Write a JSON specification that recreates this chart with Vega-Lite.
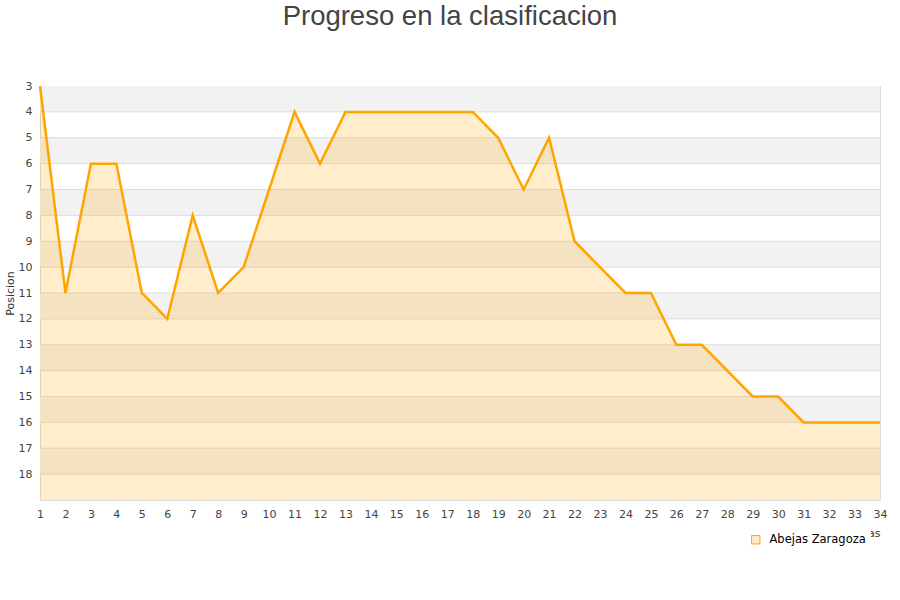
{
  "$schema": "https://vega.github.io/schema/vega-lite/v6.json",
  "width": 840,
  "height": 414,
  "autosize": "none",
  "padding": {"left": 40, "top": 86, "right": 20, "bottom": 100},
  "background": "white",
  "title": {"text": "Progreso en la clasificacion", "font": "Liberation Sans", "fontSize": 27.5, "fontWeight": "normal", "color": "#444444", "offset": 50, "dx": -10},
  "config": {"view": {"stroke": "#dddddd"}, "axis": {"labelFont": "DejaVu Sans", "labelColor": "#444444", "labelFontSize": 11, "labelOverlap": false}, "axisX": {"labelOverlap": false}, "axisY": {"labelOverlap": false}, "axisQuantitative": {"labelOverlap": false}},
  "datasets": {
    "pos": [
      {"jornada": 1, "posicion": 3, "equipo": "Abejas Zaragoza"},
      {"jornada": 2, "posicion": 11, "equipo": "Abejas Zaragoza"},
      {"jornada": 3, "posicion": 6, "equipo": "Abejas Zaragoza"},
      {"jornada": 4, "posicion": 6, "equipo": "Abejas Zaragoza"},
      {"jornada": 5, "posicion": 11, "equipo": "Abejas Zaragoza"},
      {"jornada": 6, "posicion": 12, "equipo": "Abejas Zaragoza"},
      {"jornada": 7, "posicion": 8, "equipo": "Abejas Zaragoza"},
      {"jornada": 8, "posicion": 11, "equipo": "Abejas Zaragoza"},
      {"jornada": 9, "posicion": 10, "equipo": "Abejas Zaragoza"},
      {"jornada": 10, "posicion": 7, "equipo": "Abejas Zaragoza"},
      {"jornada": 11, "posicion": 4, "equipo": "Abejas Zaragoza"},
      {"jornada": 12, "posicion": 6, "equipo": "Abejas Zaragoza"},
      {"jornada": 13, "posicion": 4, "equipo": "Abejas Zaragoza"},
      {"jornada": 14, "posicion": 4, "equipo": "Abejas Zaragoza"},
      {"jornada": 15, "posicion": 4, "equipo": "Abejas Zaragoza"},
      {"jornada": 16, "posicion": 4, "equipo": "Abejas Zaragoza"},
      {"jornada": 17, "posicion": 4, "equipo": "Abejas Zaragoza"},
      {"jornada": 18, "posicion": 4, "equipo": "Abejas Zaragoza"},
      {"jornada": 19, "posicion": 5, "equipo": "Abejas Zaragoza"},
      {"jornada": 20, "posicion": 7, "equipo": "Abejas Zaragoza"},
      {"jornada": 21, "posicion": 5, "equipo": "Abejas Zaragoza"},
      {"jornada": 22, "posicion": 9, "equipo": "Abejas Zaragoza"},
      {"jornada": 23, "posicion": 10, "equipo": "Abejas Zaragoza"},
      {"jornada": 24, "posicion": 11, "equipo": "Abejas Zaragoza"},
      {"jornada": 25, "posicion": 11, "equipo": "Abejas Zaragoza"},
      {"jornada": 26, "posicion": 13, "equipo": "Abejas Zaragoza"},
      {"jornada": 27, "posicion": 13, "equipo": "Abejas Zaragoza"},
      {"jornada": 28, "posicion": 14, "equipo": "Abejas Zaragoza"},
      {"jornada": 29, "posicion": 15, "equipo": "Abejas Zaragoza"},
      {"jornada": 30, "posicion": 15, "equipo": "Abejas Zaragoza"},
      {"jornada": 31, "posicion": 16, "equipo": "Abejas Zaragoza"},
      {"jornada": 32, "posicion": 16, "equipo": "Abejas Zaragoza"},
      {"jornada": 33, "posicion": 16, "equipo": "Abejas Zaragoza"},
      {"jornada": 34, "posicion": 16, "equipo": "Abejas Zaragoza"}
    ],
    "bands": [
      {"desde": 3, "hasta": 4}, {"desde": 5, "hasta": 6}, {"desde": 7, "hasta": 8},
      {"desde": 9, "hasta": 10}, {"desde": 11, "hasta": 12}, {"desde": 13, "hasta": 14},
      {"desde": 15, "hasta": 16}, {"desde": 17, "hasta": 18}
    ],
    "grid": [
      {"v": 4}, {"v": 5}, {"v": 6}, {"v": 7}, {"v": 8}, {"v": 9}, {"v": 10}, {"v": 11},
      {"v": 12}, {"v": 13}, {"v": 14}, {"v": 15}, {"v": 16}, {"v": 17}, {"v": 18}
    ]
  },
  "layer": [
    {
      "data": {"name": "bands"},
      "mark": {"type": "rect", "color": "#f2f2f2"},
      "encoding": {
        "y": {"field": "desde", "type": "quantitative", "scale": {"domain": [3, 19], "reverse": true, "nice": false, "zero": false},
              "axis": {"values": [3,4,5,6,7,8,9,10,11,12,13,14,15,16,17,18], "tickCount": 16, "labelOverlap": false, "labelBound": false, "grid": false, "ticks": false, "domain": false, "labelPadding": 8, "title": "Posicion", "titleFont": "DejaVu Sans", "titleFontSize": 11, "titleFontWeight": "normal", "titleColor": "#333333", "titlePadding": 3}},
        "y2": {"field": "hasta"}
      }
    },
    {
      "data": {"name": "grid"},
      "mark": {"type": "rule", "color": "#dddddd", "strokeWidth": 1},
      "encoding": {"y": {"field": "v", "type": "quantitative",
              "axis": {"values": [3,4,5,6,7,8,9,10,11,12,13,14,15,16,17,18], "tickCount": 16, "labelOverlap": false, "labelBound": false, "grid": false, "ticks": false, "domain": false, "labelPadding": 8, "title": "Posicion", "titleFont": "DejaVu Sans", "titleFontSize": 11, "titleFontWeight": "normal", "titleColor": "#333333", "titlePadding": 3}}}
    },
    {
      "data": {"name": "pos"},
      "mark": {"type": "area", "color": "#FFA500", "opacity": 0.2},
      "encoding": {
        "x": {"field": "jornada", "type": "quantitative", "scale": {"domain": [1, 34], "nice": false, "zero": false},
              "axis": {"values": [1,2,3,4,5,6,7,8,9,10,11,12,13,14,15,16,17,18,19,20,21,22,23,24,25,26,27,28,29,30,31,32,33,34], "tickCount": 34, "labelOverlap": false, "labelBound": false, "grid": false, "ticks": false, "domain": true, "domainColor": "#dddddd", "labelPadding": 8, "labelFlush": false, "title": "Jornadas", "titleAnchor": "end", "titleFont": "DejaVu Sans", "titleFontSize": 11, "titleFontWeight": "normal", "titleColor": "#333333", "titlePadding": 8}},
        "y": {"field": "posicion", "type": "quantitative",
              "axis": {"values": [3,4,5,6,7,8,9,10,11,12,13,14,15,16,17,18], "tickCount": 16, "labelOverlap": false, "labelBound": false, "grid": false, "ticks": false, "domain": false, "labelPadding": 8, "title": "Posicion", "titleFont": "DejaVu Sans", "titleFontSize": 11, "titleFontWeight": "normal", "titleColor": "#333333", "titlePadding": 3}},
        "y2": {"datum": 19}
      }
    },
    {
      "data": {"name": "pos"},
      "mark": {"type": "line", "strokeWidth": 2.5},
      "encoding": {
        "x": {"field": "jornada", "type": "quantitative",
              "axis": {"values": [1,2,3,4,5,6,7,8,9,10,11,12,13,14,15,16,17,18,19,20,21,22,23,24,25,26,27,28,29,30,31,32,33,34], "tickCount": 34, "labelOverlap": false, "labelBound": false, "grid": false, "ticks": false, "domain": true, "domainColor": "#dddddd", "labelPadding": 8, "labelFlush": false, "title": "Jornadas", "titleAnchor": "end", "titleFont": "DejaVu Sans", "titleFontSize": 11, "titleFontWeight": "normal", "titleColor": "#333333", "titlePadding": 8}},
        "y": {"field": "posicion", "type": "quantitative",
              "axis": {"values": [3,4,5,6,7,8,9,10,11,12,13,14,15,16,17,18], "tickCount": 16, "labelOverlap": false, "labelBound": false, "grid": false, "ticks": false, "domain": false, "labelPadding": 8, "title": "Posicion", "titleFont": "DejaVu Sans", "titleFontSize": 11, "titleFontWeight": "normal", "titleColor": "#333333", "titlePadding": 3}},
        "stroke": {"field": "equipo", "type": "nominal", "scale": {"range": ["#FFA500"]},
                 "legend": {"orient": "none", "legendX": 705, "legendY": 443, "padding": 5, "fillColor": "white", "zindex": 1, "title": null, "symbolType": "square", "symbolSize": 70, "labelOffset": 8, "labelFont": "DejaVu Sans", "labelFontSize": 11.5, "labelColor": "#000000",
                            "encode": {"symbols": {"update": {"fill": {"value": "#FFECCB"}, "stroke": {"value": "#999999"}, "strokeWidth": {"value": 1}, "opacity": {"value": 1}}}}}}
      }
    }
  ]
}
